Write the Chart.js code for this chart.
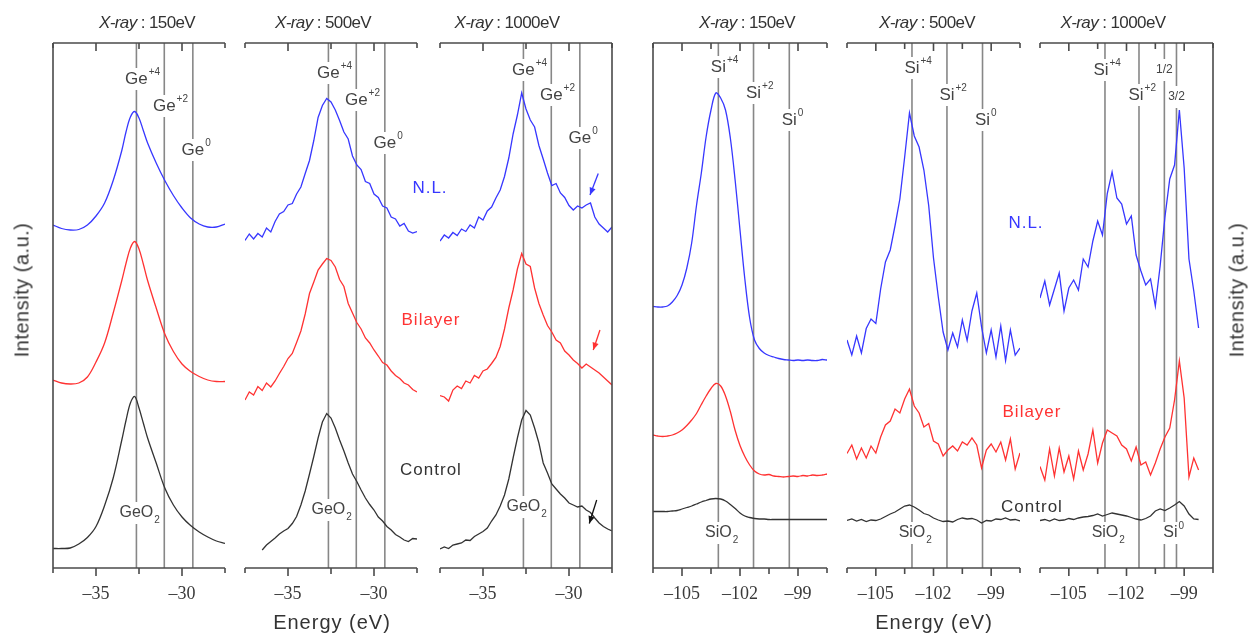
<!DOCTYPE html>
<html>
<head>
<meta charset="utf-8">
<script src="https://cdn.jsdelivr.net/npm/chart.js@4.4.1/dist/chart.umd.min.js"></script>
<style>
  body { margin: 0; background: #fff; width: 1257px; height: 640px; position: relative; overflow: hidden;
         font-family: "Liberation Sans", Arial, sans-serif; }
  canvas { position: absolute; left: 0; top: 0; pointer-events: none; }
  .t { position: absolute; white-space: nowrap; transform: translate(-50%, -50%); }
  .hdr { font-size: 17px; color: #333; letter-spacing: -0.6px; top: 23px; }
  .xlab { font-size: 20px; color: #333; letter-spacing: 1px; top: 622px; }
  .ylab { font-size: 20px; color: #333; letter-spacing: 0.5px; top: 290px; transform: translate(-50%, -50%) rotate(-90deg); }
  .ser { font-size: 17px; letter-spacing: 1px; }
</style>
</head>
<body>
<canvas id="c1" width="1257" height="640"></canvas>
<canvas id="c2" width="1257" height="640"></canvas>
<canvas id="c3" width="1257" height="640"></canvas>
<canvas id="c4" width="1257" height="640"></canvas>
<canvas id="c5" width="1257" height="640"></canvas>
<canvas id="c6" width="1257" height="640"></canvas>

<div class="t hdr" style="left:147px"><i>X-ray</i> : 150eV</div>
<div class="t hdr" style="left:323px"><i>X-ray</i> : 500eV</div>
<div class="t hdr" style="left:507px"><i>X-ray</i> : 1000eV</div>
<div class="t hdr" style="left:747px"><i>X-ray</i> : 150eV</div>
<div class="t hdr" style="left:927px"><i>X-ray</i> : 500eV</div>
<div class="t hdr" style="left:1113px"><i>X-ray</i> : 1000eV</div>

<div class="t xlab" style="left:332px">Energy (eV)</div>
<div class="t xlab" style="left:934px">Energy (eV)</div>
<div class="t ylab" style="left:22px">Intensity (a.u.)</div>
<div class="t ylab" style="left:1237px">Intensity (a.u.)</div>

<div class="t ser" style="left:430px;top:188px;color:#3737ff">N.L.</div>
<div class="t ser" style="left:431px;top:320px;color:#ff3232">Bilayer</div>
<div class="t ser" style="left:431px;top:470px;color:#333">Control</div>
<div class="t ser" style="left:1026px;top:223px;color:#3737ff">N.L.</div>
<div class="t ser" style="left:1032px;top:412px;color:#ff3232">Bilayer</div>
<div class="t ser" style="left:1032px;top:507px;color:#333">Control</div>

<script>
// ---- Ge 3d, energy axes ----
const geTicks = [-37.5, -35, -32.5, -30, -27.5];
const geMajors = [-35, -30];
const gePeaks = [-32.65, -31.03, -29.37];
const gePeakNames = ['+4', '+2', '0'];

const geEnergy150 = [-37.5, -37, -36.5, -36, -35.5, -35, -34.5, -34, -33.5, -33.25, -33, -32.75,
  -32.5, -32.25, -32, -31.5, -31, -30.5, -30, -29.5, -29, -28.5, -28, -27.5];
const geEnergy = [-37.5, -37.25, -37, -36.75, -36.5, -36.25, -36, -35.75, -35.5, -35.25, -35,
  -34.75, -34.5, -34.25, -34, -33.75, -33.5, -33.25, -33, -32.75, -32.5, -32.25, -32, -31.75,
  -31.5, -31.25, -31, -30.75, -30.5, -30.25, -30, -29.75, -29.5, -29.25, -29, -28.75, -28.5,
  -28.25, -28, -27.75, -27.5];

// Ge, 150 eV
const ge150Blue = [68.6, 67.9, 67.6, 67.7, 68.6, 70.4, 73, 77.5, 83.5, 87.3, 90.2, 91.3, 90, 87.5, 85, 81, 77.5, 74.5, 72, 70, 68.8, 68.2, 68.2, 68.8];
const ge150Red = [37.6, 37.0, 36.8, 37.0, 38.2, 41.2, 45, 51, 57.5, 61, 64, 65.3, 63.8, 60.8, 57.5, 52, 46.8, 43.3, 40.8, 39.3, 38.3, 37.6, 37.3, 37.3];
const ge150Black = [3.9, 3.9, 4.0, 4.8, 6.1, 8.3, 12.5, 18, 25.6, 29.6, 33, 34.3, 32, 29, 26, 21, 16, 12.6, 10.2, 8.5, 7.2, 6.2, 5.4, 4.9];

// Ge, 500 eV
const ge500Blue = [65.5, 66.8, 65.8, 66.9, 66.2, 68.0, 67.2, 69.3, 70.8, 71.3, 72.6, 72.9, 74.8, 76.2, 78.9, 81.5, 85.5, 90.1, 92.5, 93.9,
  93.2, 91.6, 89.5, 87.2, 85.8, 82.4, 80.6, 79.7, 77.3, 76.9, 74.8, 74.1, 72.4, 72.0, 70.2, 69.8, 68.4, 68.9, 67.4, 67.0, 67.3];
const ge500Red = [33.6, 35.2, 34.6, 36.3, 35.5, 37.0, 36.2, 37.4, 38.9, 40.3, 41.9, 42.9, 45.1, 47.4, 50.8, 54.9, 57.2, 59.6, 60.8, 61.9,
  61.5, 60.2, 57.7, 56.3, 52.9, 51.0, 49.1, 47.8, 46.0, 45.0, 43.6, 42.4, 41.1, 40.6, 39.4, 38.5, 37.9, 37.0, 36.6, 35.7, 35.2];
const ge500Black = [null, null, null, null, 3.6, 4.6, 5.3, 6.0, 6.8, 7.4, 7.9, 8.9, 10.3, 12.6, 15.4, 18.8, 22.3, 26.0, 29.2, 30.9,
  30.0, 28.0, 25.6, 23.4, 21.0, 18.8, 17.3, 15.6, 14.0, 12.7, 11.6, 10.2, 9.4, 8.3, 7.6, 6.7, 6.2, 5.6, 5.3, 5.9, 5.8];

// Ge, 1000 eV
const ge1000Blue = [65.4, 66.6, 66.0, 67.1, 66.5, 67.8, 67.3, 68.6, 68.0, 70.2, 69.6, 71.4, 72.2, 74.0, 75.6, 78.3, 82.0, 86.8, 90.6, 95.0,
  91.8, 89.6, 88.2, 84.5, 81.8, 79.0, 76.5, 76.9, 75.0, 74.1, 72.5, 71.6, 72.4, 72.0, 72.6, 73.0, 70.2, 68.8, 68.0, 67.2, 68.2];
const ge1000Red = [34.5, 34.2, 33.4, 35.6, 36.4, 35.9, 37.4, 37.0, 38.5, 38.0, 39.4, 39.8, 40.9, 42.1, 44.3, 47.8, 52.0, 55.6, 59.8, 62.9,
  60.8, 60.3, 56.0, 52.9, 50.6, 48.5, 47.2, 45.6, 45.0, 43.4, 42.6, 41.6, 40.9, 40.0, 40.8, 40.2, 39.6, 39.0, 38.2, 37.4, 36.6];
const ge1000Black = [3.8, 4.2, 3.9, 4.6, 4.8, 5.0, 5.6, 5.5, 6.3, 6.8, 7.3, 8.0, 9.4, 10.6, 12.4, 14.6, 17.8, 22.0, 26.0, 29.6,
  31.5, 30.6, 28.0, 25.0, 21.0, 19.0, 16.8, 15.8, 14.8, 14.0, 13.0, 12.6, 12.2, 12.4, 11.6, 11.1, 10.0, 9.0, 8.3, 7.8, 7.4];

// arrows marking the Ge0 shoulder (1000 eV): blue, red, black
const arrowTailE = [-28.3, -28.2, -28.39];
const arrowTailI = [78.9, 47.6, 13.6];
const arrowTipE = [-28.78, -28.59, -28.82];
const arrowTipI = [74.6, 43.6, 8.9];

// ---- Si 2p, energy axes ----
const siTicks = [-106.5, -105, -103.5, -102, -100.5, -99, -97.5];
const siMajors = [-105, -102, -99];
const siPeaks = [-103.12, -101.3, -99.45];
const siPeakNames = ['+4', '+2', '0'];
const siPeaks1000 = [-103.12, -101.35, -100.03, -99.4];

const siEnergy = [-106.5, -106.25, -106, -105.75, -105.5, -105.25, -105, -104.75, -104.5, -104.25, -104,
  -103.75, -103.5, -103.25, -103, -102.75, -102.5, -102.25, -102, -101.75, -101.5, -101.25, -101,
  -100.75, -100.5, -100.25, -100, -99.75, -99.5, -99.25, -99, -98.75, -98.5, -98.25, -98, -97.75, -97.5];

// Si, 150 eV
const si150Blue = [52.3, 52.2, 52.2, 52.4, 53.2, 54.5, 56.6, 60.0, 65.0, 72.5, 79.0, 86.3, 91.6, 95.0, 94.0, 91.6, 86.0, 77.5, 67.6,
  57.8, 50.0, 45.6, 43.9, 43.0, 42.5, 42.2, 41.9, 41.7, 41.6, 41.5, 41.6, 41.5, 41.6, 41.5, 41.5, 41.7, 41.6];
const si150Red = [26.6, 26.4, 26.3, 26.4, 26.6, 27.0, 27.6, 28.5, 29.6, 30.9, 32.7, 34.4, 35.9, 36.9, 36.4, 34.4, 31.3, 27.5, 24.5,
  22.3, 20.6, 19.4, 18.8, 18.6, 18.7, 18.4, 18.3, 18.2, 18.3, 18.4, 18.3, 18.5, 18.4, 18.6, 18.5, 18.6, 18.8];
const si150Black = [11.3, 11.3, 11.3, 11.3, 11.4, 11.5, 11.8, 12.1, 12.4, 12.8, 13.2, 13.5, 13.8, 13.9, 13.8, 13.4, 12.7, 11.9, 11.0,
  10.4, 10.1, 9.9, 9.8, 9.8, 9.7, 9.7, 9.7, 9.7, 9.7, 9.7, 9.7, 9.7, 9.7, 9.7, 9.7, 9.7, 9.7];

// Si, 500 eV
const si500Blue = [45.6, 42.6, 46.4, 43.0, 47.9, 49.8, 48.9, 55.8, 61.2, 63.6, 68.5, 73.8, 82.2, 91.0, 86.4, 84.2, 79.6, 72.5, 62.0,
  54.2, 47.2, 43.6, 47.0, 44.2, 49.6, 45.5, 51.4, 55.0, 48.2, 43.0, 47.6, 42.2, 48.4, 41.5, 47.6, 42.6, 44.0];
const si500Red = [22.9, 24.6, 21.8, 24.0, 22.0, 24.4, 23.0, 26.2, 28.6, 29.4, 31.8, 31.0, 33.8, 35.8, 32.4, 31.0, 28.2, 28.9, 25.4,
  24.8, 22.4, 23.6, 24.4, 23.4, 25.2, 24.6, 26.0, 24.6, 20.0, 23.6, 24.8, 23.2, 25.2, 21.6, 25.8, 19.8, 23.0];
const si500Black = [9.5, 9.8, 9.4, 9.7, 9.3, 9.6, 9.5, 9.8, 10.3, 10.8, 11.2, 11.8, 12.4, 12.6, 12.2, 11.6, 10.9, 10.6, 10.0,
  9.6, 9.3, 9.4, 9.2, 9.7, 10.0, 9.8, 9.9, 9.6, 9.0, 9.5, 9.4, 9.8, 9.7, 10.0, 9.6, 9.7, 9.4];

// Si, 1000 eV
const si1000Blue = [54.0, 57.4, 52.6, 55.8, 59.0, 51.4, 56.0, 57.6, 55.6, 61.8, 60.2, 65.4, 69.4, 66.6, 74.9, 79.2, 74.0, 72.8, 68.8,
  70.4, 62.6, 59.4, 56.6, 57.8, 52.4, 60.4, 70.2, 77.8, 80.6, 91.6, 80.0, 61.8, 55.4, 48.0, null, null, null];
const si1000Red = [20.3, 17.6, 23.8, 18.4, 24.0, 19.2, 22.4, 17.8, 23.4, 19.6, 22.8, 27.6, 21.0, 25.0, 27.6, 27.0, 26.4, 24.6, 23.8,
  21.4, 24.2, 20.6, 21.2, 18.6, 21.0, 23.8, 26.2, 28.0, 33.6, 41.4, 34.0, 18.2, 22.0, 19.6, null, null, null];
const si1000Black = [9.5, 9.7, 9.4, 9.8, 9.5, 9.6, 9.9, 9.7, 10.0, 10.2, 10.3, 10.5, 10.8, 10.4, 10.7, 11.0, 10.8, 10.6, 10.4,
  10.1, 9.8, 9.6, 9.9, 10.4, 11.4, 11.8, 11.5, 12.0, 12.6, 13.3, 12.4, 10.8, 9.8, 9.7, null, null, null];

const BLUE = 'rgb(55,55,255)';
const RED = 'rgb(255,50,50)';
const BLACK = '#333';
const TAG_COLOR = '#444';

function tag(ctx, cx, y, main, sup, sub, size) {
  ctx.font = size + 'px "Liberation Sans", Arial, sans-serif';
  const w1 = ctx.measureText(main).width;
  ctx.font = '10px "Liberation Sans", Arial, sans-serif';
  const w2 = (sup || sub) ? ctx.measureText(sup || sub).width + 1 : 0;
  const x0 = cx - w1 / 2;
  ctx.fillStyle = '#fff';
  ctx.fillRect(x0 - 2, y - 11, w1 + w2 + 4, 22);
  ctx.fillStyle = TAG_COLOR;
  ctx.textBaseline = 'middle';
  ctx.textAlign = 'left';
  ctx.font = size + 'px "Liberation Sans", Arial, sans-serif';
  ctx.fillText(main, x0, y);
  ctx.font = '10px "Liberation Sans", Arial, sans-serif';
  if (sup) ctx.fillText(sup, x0 + w1 + 1, y - 7);
  if (sub) ctx.fillText(sub, x0 + w1 + 1, y + 7);
}

const decoPlugin = {
  id: 'deco',
  beforeDatasetsDraw(chart, args, o) {
    const { ctx, chartArea: a } = chart;
    const xs = chart.scales.x;
    ctx.save();
    ctx.strokeStyle = '#878787';
    ctx.lineWidth = 1.6;
    o.lines.forEach(e => {
      const px = xs.getPixelForValue(e);
      ctx.beginPath(); ctx.moveTo(px, a.top); ctx.lineTo(px, a.bottom); ctx.stroke();
    });
    o.tags.forEach(t => {
      const px = xs.getPixelForValue(t.e) + (t.dx || 0);
      tag(ctx, px, t.y, t.main, t.sup, t.sub, t.size || 17);
    });
    ctx.restore();
  },
  afterDraw(chart, args, o) {
    const { ctx, chartArea: a } = chart;
    const xs = chart.scales.x, ys = chart.scales.y;
    ctx.save();
    ctx.strokeStyle = '#4a4a4a';
    ctx.lineWidth = 1.6;
    const seg = (x1, y1, x2, y2) => { ctx.beginPath(); ctx.moveTo(x1, y1); ctx.lineTo(x2, y2); ctx.stroke(); };
    seg(a.left, a.top, a.right, a.top);
    seg(a.left, a.bottom, a.right, a.bottom);
    o.ticks.forEach(v => {
      const px = xs.getPixelForValue(v);
      const edge = v === o.ticks[0] || v === o.ticks[o.ticks.length - 1];
      const len = edge ? 5 : (o.majors.includes(v) ? 8 : 6);
      seg(px, a.top, px, a.top + len);
      seg(px, a.bottom, px, a.bottom + len);
    });
    if (o.leftBorder) seg(a.left, a.top, a.left, a.bottom);
    if (o.rightBorder) seg(a.right, a.top, a.right, a.bottom);
    if (o.arrows) {
      const cols = [BLUE, RED, '#111'];
      arrowTailE.forEach((e, i) => {
        const x1 = xs.getPixelForValue(e), y1 = ys.getPixelForValue(arrowTailI[i]);
        const x2 = xs.getPixelForValue(arrowTipE[i]), y2 = ys.getPixelForValue(arrowTipI[i]);
        const ang = Math.atan2(y2 - y1, x2 - x1);
        ctx.strokeStyle = cols[i]; ctx.fillStyle = cols[i]; ctx.lineWidth = 1.3;
        seg(x1, y1, x2, y2);
        ctx.beginPath();
        ctx.moveTo(x2, y2);
        ctx.lineTo(x2 - 8 * Math.cos(ang - 0.4), y2 - 8 * Math.sin(ang - 0.4));
        ctx.lineTo(x2 - 8 * Math.cos(ang + 0.4), y2 - 8 * Math.sin(ang + 0.4));
        ctx.closePath(); ctx.fill();
      });
    }
    ctx.restore();
  }
};

const fmtTick = v => (v < 0 ? '\u2013' + Math.abs(v) : String(v));

function makePanel(id, p) {
  const colors = [BLUE, RED, BLACK];
  const datasets = p.series.map((vals, i) => ({
    data: p.energy.map((e, k) => ({ x: e, y: vals[k] })),
    borderColor: colors[i],
    borderWidth: 1.3,
    pointRadius: 0,
    tension: p.smooth ? 0.35 : 0,
    spanGaps: false
  }));
  new Chart(document.getElementById(id), {
    type: 'line',
    data: { datasets },
    options: {
      responsive: false,
      animation: false,
      events: [],
      layout: { padding: { left: p.left, right: 1257 - p.right, top: 43, bottom: 32 } },
      plugins: {
        legend: { display: false },
        tooltip: { enabled: false },
        deco: {
          lines: p.lines, tags: p.tags, ticks: p.ticks, majors: p.majors,
          leftBorder: !!p.leftBorder, rightBorder: !!p.rightBorder, arrows: !!p.arrows
        }
      },
      scales: {
        x: {
          type: 'linear',
          min: p.ticks[0],
          max: p.ticks[p.ticks.length - 1],
          afterBuildTicks: s => { s.ticks = p.ticks.map(v => ({ value: v })); },
          afterFit: s => { s.height = 40; },
          grid: { display: false, drawTicks: false },
          border: { display: false },
          ticks: {
            autoSkip: false, maxRotation: 0, padding: 15,
            color: '#3a3a3a',
            font: { family: '"Liberation Serif", serif', size: 18 },
            callback: v => (p.majors.includes(v) ? fmtTick(v) : '')
          }
        },
        y: { display: false, min: 0, max: 105 }
      }
    },
    plugins: [decoPlugin]
  });
}

function geTags(ys, oxideY) {
  return gePeaks.map((e, i) => ({ e, y: ys[i], main: 'Ge', sup: gePeakNames[i] }))
    .concat([{ e: gePeaks[0], y: oxideY, main: 'GeO', sub: '2', size: 16 }]);
}
function siTags(ys) {
  return siPeaks.map((e, i) => ({ e, y: ys[i], main: 'Si', sup: siPeakNames[i] }))
    .concat([{ e: siPeaks[0], y: 533, main: 'SiO', sub: '2', size: 16 }]);
}

makePanel('c1', { left: 53, right: 225, ticks: geTicks, majors: geMajors, energy: geEnergy150, smooth: true,
  series: [ge150Blue, ge150Red, ge150Black], lines: gePeaks, tags: geTags([79, 106, 150], 513), leftBorder: true });
makePanel('c2', { left: 245, right: 417, ticks: geTicks, majors: geMajors, energy: geEnergy,
  series: [ge500Blue, ge500Red, ge500Black], lines: gePeaks, tags: geTags([73, 100, 143], 510) });
makePanel('c3', { left: 440, right: 612, ticks: geTicks, majors: geMajors, energy: geEnergy,
  series: [ge1000Blue, ge1000Red, ge1000Black], lines: gePeaks, tags: geTags([70, 95, 138], 507),
  rightBorder: true, arrows: true });
makePanel('c4', { left: 653, right: 827, ticks: siTicks, majors: siMajors, energy: siEnergy, smooth: true,
  series: [si150Blue, si150Red, si150Black], lines: siPeaks, tags: siTags([67, 93, 120]), leftBorder: true });
makePanel('c5', { left: 847, right: 1020, ticks: siTicks, majors: siMajors, energy: siEnergy,
  series: [si500Blue, si500Red, si500Black], lines: siPeaks, tags: siTags([68, 95, 120]) });
makePanel('c6', { left: 1040, right: 1213, ticks: siTicks, majors: siMajors, energy: siEnergy,
  series: [si1000Blue, si1000Red, si1000Black], lines: siPeaks1000, rightBorder: true,
  tags: [
    { e: siPeaks1000[0], y: 70, main: 'Si', sup: '+4', dx: -4 },
    { e: siPeaks1000[1], y: 95, main: 'Si', sup: '+2', dx: -3 },
    { e: siPeaks1000[2], y: 70, main: '1/2', size: 12 },
    { e: siPeaks1000[3], y: 97, main: '3/2', size: 12 },
    { e: siPeaks1000[0], y: 533, main: 'SiO', sub: '2', size: 16 },
    { e: (siPeaks1000[2] + siPeaks1000[3]) / 2, y: 533, main: 'Si', sup: '0', size: 16 }
  ] });
</script>
</body>
</html>
